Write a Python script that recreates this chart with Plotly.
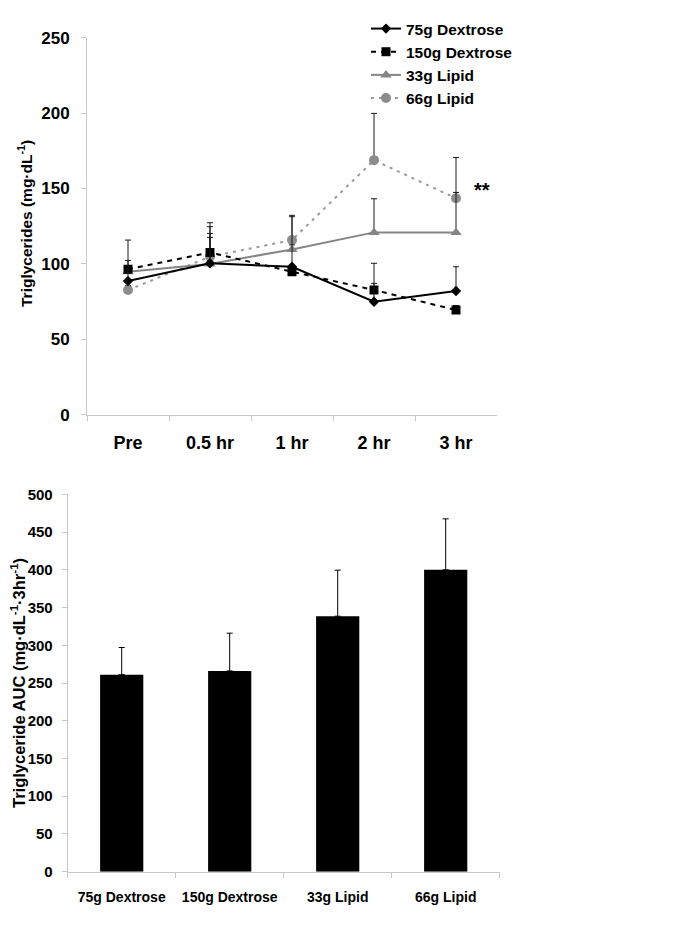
import plotly.graph_objects as go

# ---------------- data ----------------
time_labels = ["Pre", "0.5 hr", "1 hr", "2 hr", "3 hr"]

dex75 = [88.6, 100.4, 98.1, 74.9, 82.0]
dex75_err = [13.7, 19.8, 33.2, 25.5, 16.1]
dex150 = [96.4, 107.6, 94.8, 82.7, 69.4]
dex150_err = [19.4, 19.7, 3.0, 4.4, 3.0]
lip33 = [94.8, 100.0, 109.6, 120.9, 120.9]
lip33_err = [3.0, 17.6, 3.0, 22.3, 26.5]
lip66 = [82.7, 104.8, 115.8, 168.8, 143.5]
lip66_err = [3.0, 19.9, 16.4, 31.0, 27.1]

groups = ["75g Dextrose", "150g Dextrose", "33g Lipid", "66g Lipid"]
auc = [261, 266, 338.5, 400]
auc_err = [36, 50, 61, 67.5]

W, H = 685, 928
OFF = 8  # page body margin
FONT_TOP = "Liberation Sans, Arial, sans-serif"
FONT_BOT = "Liberation Sans Narrow, Arial Narrow, Liberation Sans, Arial, sans-serif"
AXCOL = "#c8c8c8"

fig = go.Figure()

def line_trace(name, y, err, color, dash, symbol, msize, mcolor, rank):
    return go.Scatter(
        x=time_labels, y=y, name=name, mode="lines+markers",
        line=dict(color=color, width=2, dash=dash),
        marker=dict(symbol=symbol, size=msize, color=mcolor),
        error_y=dict(type="data", array=err, arrayminus=[0]*len(err), symmetric=False,
                     color="#1a1a1a", thickness=1, width=3),
        legendrank=rank, xaxis="x", yaxis="y",
    )

fig.add_trace(line_trace("66g Lipid", lip66, lip66_err, "#9a9a9a", "3px,5px", "circle", 10, "#8c8c8c", 4))
fig.add_trace(line_trace("33g Lipid", lip33, lip33_err, "#858585", "solid", "triangle-up", 10, "#858585", 3))
fig.add_trace(line_trace("150g Dextrose", dex150, dex150_err, "#000000", "5px,5px", "square", 9, "#000000", 2))
fig.add_trace(line_trace("75g Dextrose", dex75, dex75_err, "#000000", "solid", "diamond", 8, "#000000", 1))

fig.add_trace(go.Bar(
    x=groups, y=auc, width=0.4, marker=dict(color="#000000", line=dict(width=0)),
    error_y=dict(type="data", array=auc_err, arrayminus=[0]*len(auc_err), symmetric=False,
                 color="#000000", thickness=1, width=3),
    showlegend=False, xaxis="x2", yaxis="y2",
))

def px_x(p):
    return (p - OFF) / W

def px_y(p):
    return 1 - (p - OFF) / H

axis_common = dict(showline=True, linecolor=AXCOL, linewidth=1, ticks="outside",
                   tickcolor=AXCOL, ticklen=5, showgrid=False, zeroline=False,
                   automargin=False, tickangle=0)

fig.update_layout(
    width=W, height=H, margin=dict(l=0, r=0, t=0, b=0, autoexpand=False),
    paper_bgcolor="white", plot_bgcolor="white",
    font=dict(family=FONT_TOP, color="#000000"),
    xaxis=dict(domain=[px_x(87), px_x(497)], anchor="y", type="category",
               range=[-0.5, 4.5], tickson="boundaries", ticklabelstandoff=12,
               tickfont=dict(family=FONT_TOP, size=18, weight="bold"), **axis_common),
    yaxis=dict(domain=[px_y(414.7), px_y(37.7)], anchor="x", range=[0, 250],
               tickvals=[0, 50, 100, 150, 200, 250], ticklabelstandoff=8,
               tickfont=dict(family=FONT_TOP, size=17, weight="bold"), **axis_common),
    xaxis2=dict(domain=[px_x(67.7), px_x(499.7)], anchor="y2", type="category",
                range=[-0.5, 3.5], tickson="boundaries", ticklabelstandoff=12,
                tickfont=dict(family=FONT_BOT, size=14, weight="bold"), **axis_common),
    yaxis2=dict(domain=[px_y(871.7), px_y(494.3)], anchor="x2", range=[0, 500],
                tickvals=list(range(0, 501, 50)), ticklabelstandoff=6,
                tickfont=dict(family=FONT_BOT, size=15, weight="bold"), **axis_common),
    legend=dict(x=px_x(366), y=px_y(12), xanchor="left", yanchor="top",
                bgcolor="rgba(0,0,0,0)", itemwidth=30, tracegroupgap=0,
                font=dict(family=FONT_TOP, size=15.5, weight="bold")),
    showlegend=True,
    annotations=[
        dict(text="Triglycerides (mg·dL<sup>-1</sup>)", textangle=-90, xref="paper", yref="paper",
             x=px_x(25), y=px_y(224), xanchor="center", yanchor="middle", showarrow=False,
             font=dict(family=FONT_TOP, size=15.5, weight="bold")),
        dict(text="Triglyceride AUC (mg·dL<sup>-1</sup>·3hr<sup>-1</sup>)", textangle=-90,
             xref="paper", yref="paper", x=px_x(18), y=px_y(683), xanchor="center",
             yanchor="middle", showarrow=False,
             font=dict(family=FONT_BOT, size=16.5, weight="bold")),
        dict(text="**", xref="paper", yref="paper", x=px_x(482), y=px_y(190),
             xanchor="center", yanchor="middle", showarrow=False,
             font=dict(family=FONT_TOP, size=20, weight="bold")),
    ],
)

fig.write_html("out.html")
